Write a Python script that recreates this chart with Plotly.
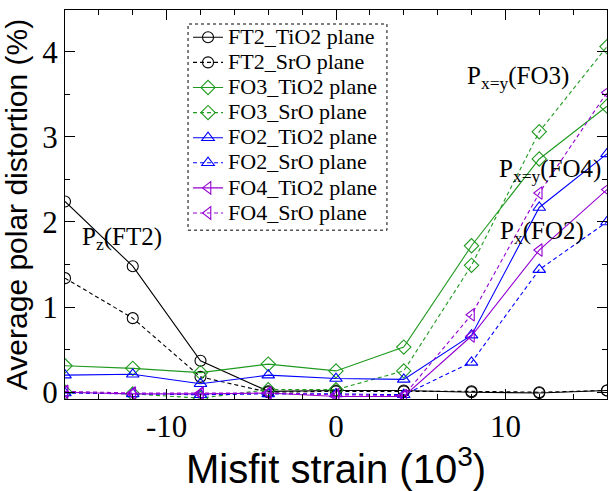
import plotly.graph_objects as go

strain = [-16, -12, -8, -4, 0, 4, 8, 12, 16]
xtick_vals = [-10, 0, 10]
xtick_text = ["-10", "0", "10"]

ft2_tio2 = [2.24, 1.48, 0.37, 0.01, 0.02, 0.02, 0.0, -0.01, 0.02]
ft2_sro = [1.34, 0.87, 0.18, 0.0, 0.01, 0.01, 0.01, 0.0, 0.02]
fo3_tio2 = [0.31, 0.28, 0.23, 0.33, 0.25, 0.53, 1.72, 2.74, 3.36]
fo3_sro = [0.0, -0.02, -0.07, 0.03, 0.03, 0.25, 1.49, 3.06, 4.06]
fo2_tio2 = [0.2, 0.21, 0.1, 0.2, 0.16, 0.15, 0.67, 2.17, 2.8]
fo2_sro = [-0.01, -0.02, -0.03, -0.02, -0.02, -0.03, 0.35, 1.44, 2.0]
fo4_tio2 = [0.0, -0.02, -0.02, -0.01, -0.05, -0.05, 0.66, 1.67, 2.38]
fo4_sro = [0.01, -0.01, -0.01, -0.01, -0.03, -0.04, 0.91, 2.34, 3.52]

names = ["FT2_TiO2 plane", "FT2_SrO plane", "FO3_TiO2 plane", "FO3_SrO plane",
         "FO2_TiO2 plane", "FO2_SrO plane", "FO4_TiO2 plane", "FO4_SrO plane"]
series = [ft2_tio2, ft2_sro, fo3_tio2, fo3_sro, fo2_tio2, fo2_sro, fo4_tio2, fo4_sro]

BLACK = "#000000"
GREEN = "#1f9a1f"
BLUE = "#0000ff"
VIOLET = "#9400d3"
colors = [BLACK, BLACK, GREEN, GREEN, BLUE, BLUE, VIOLET, VIOLET]
symbols = ["circle-open", "circle-open", "diamond-open", "diamond-open",
           "triangle-up-open", "triangle-up-open", "triangle-left-open", "triangle-left-open"]
dashes = ["solid", "4px,3px"] * 4

fig = go.Figure()
for nm, ys, c, s, d in zip(names, series, colors, symbols, dashes):
    fig.add_trace(go.Scatter(
        x=strain, y=ys, mode="lines+markers",
        name='<span style="font-size:22px">' + nm + '</span>',
        line=dict(color=c, width=1.1, dash=d),
        marker=dict(symbol=s, size=11, color=c, line=dict(color=c, width=1.1)),
    ))

serif = "Liberation Serif, Times New Roman, serif"
sans = "Liberation Sans, Arial, sans-serif"

axis_common = dict(
    showline=True, linecolor="black", linewidth=1.3, mirror="ticks",
    ticks="inside", ticklen=10, tickwidth=1.2, tickcolor="black",
    showgrid=False, zeroline=False,
    tickfont=dict(family=serif, size=31, color="black"),
)

fig.update_xaxes(
    range=[-16, 16], tickmode="array", tickvals=xtick_vals, ticktext=xtick_text,
    minor=dict(tickmode="linear", tick0=0, dtick=2, ticks="inside", ticklen=5, tickwidth=1,
               tickcolor="black", showgrid=False),
    title=dict(text="Misfit strain (10<sup>3</sup>)", font=dict(family=sans, size=40, color="black"), standoff=6),
    **axis_common,
)
fig.update_yaxes(
    range=[-0.08, 4.49], tick0=0, dtick=1,
    minor=dict(dtick=0.5, ticks="inside", ticklen=5, tickwidth=1, tickcolor="black", showgrid=False),
    title=dict(text="Average polar distortion (%)", font=dict(family=sans, size=30, color="black"), standoff=6),
    **axis_common,
)

ann_font = dict(family=serif, size=25, color="black")
fig.add_annotation(x=-15.1, y=1.8, text="P<sub>z</sub>(FT2)", showarrow=False,
                   xanchor="left", yanchor="middle", font=ann_font)
fig.add_annotation(x=7.6, y=3.7, text="P<sub>x=y</sub>(FO3)", showarrow=False,
                   xanchor="left", yanchor="middle", font=ann_font)
fig.add_annotation(x=9.5, y=2.61, text="P<sub>x=y</sub>(FO4)", showarrow=False,
                   xanchor="left", yanchor="middle", font=ann_font)
fig.add_annotation(x=9.55, y=1.88, text="P<sub>x</sub>(FO2)", showarrow=False,
                   xanchor="left", yanchor="middle", font=ann_font)

# dotted legend frame
fig.add_shape(type="rect", xref="paper", yref="paper",
              x0=0.227, x1=0.594, y0=0.434, y1=0.964,
              line=dict(color="black", width=1, dash="dot"), fillcolor="rgba(0,0,0,0)")

fig.update_layout(
    width=616, height=491,
    margin=dict(l=65, r=9, t=10, b=92),
    paper_bgcolor="white", plot_bgcolor="white",
    showlegend=True,
    legend=dict(x=0.227, y=0.975, xanchor="left", yanchor="top",
                font=dict(family=serif, size=17, color="black"),
                bgcolor="rgba(0,0,0,0)", borderwidth=0, tracegroupgap=0,
                itemwidth=30),
)

fig.write_html("out.html")
